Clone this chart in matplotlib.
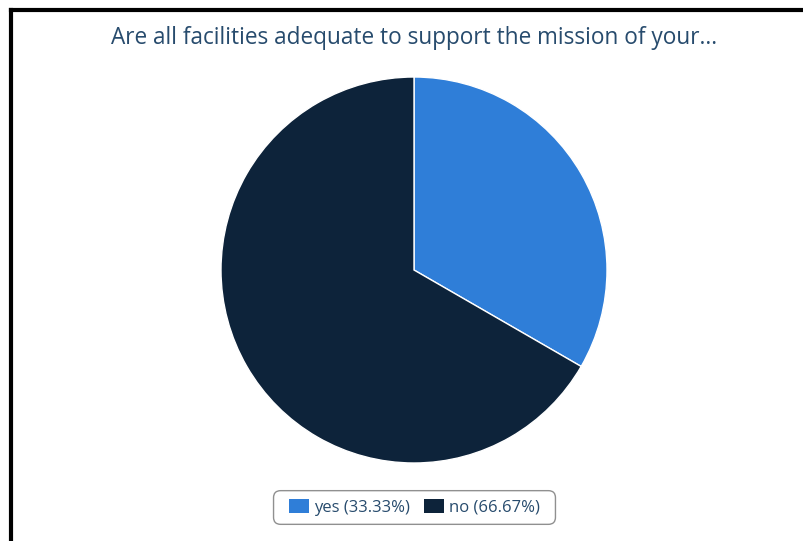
import matplotlib.pyplot as plt
from matplotlib.patches import FancyBboxPatch
from matplotlib.lines import Line2D

labels = ["yes", "no"]
values = [33.33, 66.67]
colors = ["#2f7ed8", "#0d233a"]
title = "Are all facilities adequate to support the mission of your..."

W, H = 804, 541
fig = plt.figure(figsize=(W / 100, H / 100), dpi=100)
fig.patch.set_facecolor("white")

# frame lines along the top and left edges
fig.add_artist(Line2D([11.5 / W, 1.0], [1 - 9.5 / H, 1 - 9.5 / H], color="black", lw=3.0))
fig.add_artist(Line2D([11.5 / W, 11.5 / W], [0.0, 1 - 9.5 / H], color="black", lw=3.0))

# pie area: centre (414, 270), radius 193 px
cx, cy, r = 414, 270, 193
ax = fig.add_axes([(cx - r) / W, 1 - (cy + r) / H, 2 * r / W, 2 * r / H])
ax.pie(values, colors=colors, startangle=90, counterclock=False,
       wedgeprops=dict(edgecolor="white", linewidth=1.0), radius=1.0)
ax.set_xlim(-1, 1)
ax.set_ylim(-1, 1)
ax.set_aspect("equal")
ax.axis("off")

fig.text(414 / W, 1 - 37.5 / H, title, ha="center", va="center",
         fontsize=16.3, color="#274b6d", family="Open Sans")

handles = [FancyBboxPatch((0, 0), 1, 1, boxstyle="round,pad=0,rounding_size=0.15",
                          facecolor=c, edgecolor="none") for c in colors]
leg_labels = [f"{l} ({v:.2f}%)" for l, v in zip(labels, values)]
leg = fig.legend(handles, leg_labels, loc="center", bbox_to_anchor=(414.5 / W, 1 - 507.5 / H),
                 ncol=2, frameon=False,
                 handlelength=1.2, handleheight=0.9, handletextpad=0.3,
                 columnspacing=0.85, borderpad=0.0,
                 prop={"family": "Open Sans", "size": 12})
for t in leg.get_texts():
    t.set_color("#274b6d")

# rounded legend box drawn around the legend contents
fig.canvas.draw()
bb = leg.get_window_extent()
padx, pady = 15.5, 8.5
box = FancyBboxPatch((bb.x0 - padx, bb.y0 - pady), bb.width + 2 * padx, bb.height + 2 * pady,
                     boxstyle="round,pad=0,rounding_size=7", transform=None,
                     facecolor="none", edgecolor="#909090", linewidth=1.0)
fig.add_artist(box)

fig.savefig("out.png", dpi=100, facecolor="white")
